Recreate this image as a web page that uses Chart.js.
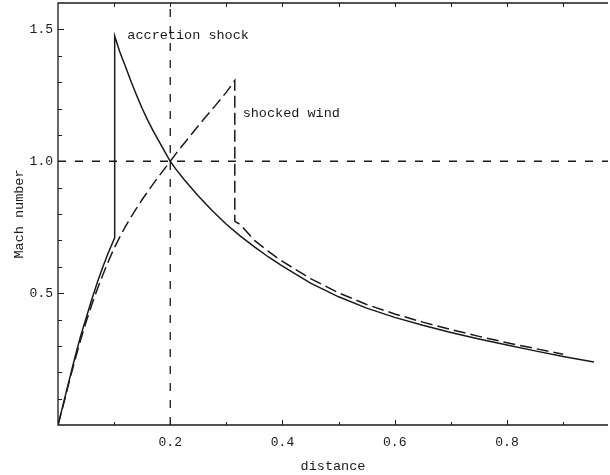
<!DOCTYPE html>
<html>
<head>
<meta charset="utf-8">
<script src="https://cdn.jsdelivr.net/npm/chart.js@4.4.0/dist/chart.umd.min.js"></script>
<style>
  html, body { margin: 0; padding: 0; background: #fff; }
  #wrap { width: 610px; height: 475px; }
</style>
</head>
<body>
<div id="wrap"><canvas id="machChart" width="610" height="475"></canvas></div>
<script>
(function () {
  // solid curve: accretion flow, jumps at the accretion shock
  const solidX = [0, 0.01, 0.02, 0.03, 0.04, 0.05, 0.06, 0.07, 0.08, 0.09, 0.101,
    0.101, 0.11, 0.12, 0.13, 0.14, 0.15, 0.16, 0.17, 0.18, 0.19, 0.2, 0.21, 0.225,
    0.25, 0.275, 0.3, 0.325, 0.35, 0.375, 0.4, 0.45,
    0.5, 0.55, 0.6, 0.65, 0.7, 0.75, 0.8, 0.85, 0.9, 0.955];
  const solidY = [0, 0.085, 0.17, 0.255, 0.335, 0.405, 0.475, 0.54, 0.6, 0.655, 0.71,
    1.475, 1.415, 1.36, 1.303, 1.25, 1.2, 1.155, 1.113, 1.075, 1.037, 1.0, 0.97, 0.93,
    0.868, 0.812, 0.761, 0.716, 0.675, 0.637, 0.602, 0.538,
    0.486, 0.443, 0.408, 0.378, 0.351, 0.326, 0.303, 0.281, 0.26, 0.239];

  // dashed curve: wind, drops at the shocked wind
  const dashedX = [0, 0.01, 0.02, 0.03, 0.04, 0.05, 0.06, 0.07, 0.08, 0.09, 0.1,
    0.11, 0.12, 0.13, 0.14, 0.15, 0.16, 0.17, 0.18, 0.19, 0.2, 0.21, 0.22, 0.24,
    0.26, 0.28, 0.3, 0.315,
    0.315, 0.325, 0.35, 0.375, 0.4, 0.45, 0.5, 0.55, 0.6, 0.65, 0.7, 0.75, 0.8, 0.85, 0.9];
  const dashedY = [0, 0.08, 0.165, 0.245, 0.32, 0.39, 0.455, 0.515, 0.57, 0.622, 0.67,
    0.712, 0.752, 0.788, 0.822, 0.855, 0.885, 0.915, 0.944, 0.972, 1.0, 1.028, 1.055, 1.108,
    1.16, 1.21, 1.262, 1.306,
    0.772, 0.76, 0.7, 0.658, 0.62, 0.555, 0.501, 0.457, 0.421, 0.39, 0.362, 0.336, 0.312, 0.29, 0.268];

  // sonic point guide lines
  const guideVX = [0.2, 0.2];
  const guideVY = [0, 1.6];
  const guideHX = [0, 0.98];
  const guideHY = [1.0, 1.0];

  const xMin = 0, xMax = 0.98;
  const yMin = 0, yMax = 1.6;
  const xLabelTicks = [0.2, 0.4, 0.6, 0.8];
  const xLabels = ['0.2', '0.4', '0.6', '0.8'];
  const yLabelTicks = [0.5, 1.0, 1.5];
  const yLabels = ['0.5', '1.0', '1.5'];
  const xMinorTicks = [0.1, 0.2, 0.3, 0.4, 0.5, 0.6, 0.7, 0.8, 0.9];
  const yMinorTicks = [0.1, 0.2, 0.3, 0.4, 0.5, 0.6, 0.7, 0.8, 0.9, 1.0, 1.1, 1.2, 1.3, 1.4, 1.5];

  const notes = [
    { text: 'accretion shock', x: 0.1236, y: 1.478 },
    { text: 'shocked wind', x: 0.329, y: 1.183 }
  ];

  const ink = '#1a1a1a';
  const mono = "'Liberation Mono', 'DejaVu Sans Mono', monospace";

  const toPoints = (xs, ys) => xs.map((v, i) => ({ x: v, y: ys[i] }));

  function noEdgePadding(scale) {
    scale.paddingTop = 0;
    scale.paddingBottom = 0;
    scale.paddingLeft = 0;
    scale.paddingRight = 0;
  }

  const axisFrame = {
    id: 'axisFrame',
    afterDatasetsDraw(chart) {
      const { ctx, chartArea: a, scales: { x, y } } = chart;
      ctx.save();
      ctx.strokeStyle = ink;
      ctx.lineWidth = 1.3;
      ctx.beginPath();
      ctx.moveTo(a.right, a.top);
      ctx.lineTo(a.left, a.top);
      ctx.lineTo(a.left, a.bottom);
      ctx.lineTo(a.right, a.bottom);
      ctx.stroke();

      ctx.lineWidth = 1;
      ctx.beginPath();
      xMinorTicks.forEach((v) => {
        const px = Math.round(x.getPixelForValue(v)) + 0.5;
        const len = xLabelTicks.includes(v) ? 5 : 3;
        ctx.moveTo(px, a.bottom);
        ctx.lineTo(px, a.bottom - len);
        ctx.moveTo(px, a.top);
        ctx.lineTo(px, a.top + 4);
      });
      yMinorTicks.forEach((v) => {
        const py = Math.round(y.getPixelForValue(v)) + 0.5;
        const len = yLabelTicks.includes(v) ? 6 : 4;
        ctx.moveTo(a.left, py);
        ctx.lineTo(a.left + len, py);
      });
      ctx.stroke();

      ctx.fillStyle = ink;
      ctx.font = `13.5px ${mono}`;
      ctx.textAlign = 'left';
      ctx.textBaseline = 'middle';
      notes.forEach((n) => {
        ctx.fillText(n.text, x.getPixelForValue(n.x), y.getPixelForValue(n.y));
      });
      ctx.restore();
    }
  };

  const ctx = document.getElementById('machChart');

  new Chart(ctx, {
    type: 'scatter',
    data: {
      datasets: [
        {
          data: toPoints(solidX, solidY),
          showLine: true,
          borderColor: ink,
          borderWidth: 1.5,
          pointRadius: 0,
          tension: 0
        },
        {
          data: toPoints(dashedX, dashedY),
          showLine: true,
          borderColor: ink,
          borderWidth: 1.5,
          borderDash: [12, 5],
          pointRadius: 0,
          tension: 0
        },
        {
          data: toPoints(guideVX, guideVY),
          showLine: true,
          borderColor: ink,
          borderWidth: 1.3,
          borderDash: [8, 9],
          pointRadius: 0
        },
        {
          data: toPoints(guideHX, guideHY),
          showLine: true,
          borderColor: ink,
          borderWidth: 1.3,
          borderDash: [8, 9],
          pointRadius: 0
        }
      ]
    },
    options: {
      responsive: false,
      animation: false,
      devicePixelRatio: 1,
      layout: { padding: { top: 3, right: 2, bottom: 0, left: 0 } },
      plugins: {
        legend: { display: false },
        tooltip: { enabled: false }
      },
      scales: {
        x: {
          type: 'linear',
          min: xMin,
          max: xMax,
          afterBuildTicks: (scale) => { scale.ticks = xLabelTicks.map((v) => ({ value: v })); },
          afterFit: (scale) => { scale.height = 50; noEdgePadding(scale); },
          grid: { display: false, drawTicks: false },
          border: { display: false },
          ticks: {
            padding: 10,
            color: ink,
            font: { family: mono, size: 13 },
            autoSkip: false,
            maxRotation: 0,
            callback: (value) => xLabels[xLabelTicks.indexOf(Math.round(value * 10) / 10)] || ''
          },
          title: {
            display: true,
            text: 'distance',
            color: ink,
            font: { family: mono, size: 13.5 },
            padding: { top: 0, bottom: 0 }
          }
        },
        y: {
          type: 'linear',
          min: yMin,
          max: yMax,
          afterBuildTicks: (scale) => { scale.ticks = yLabelTicks.map((v) => ({ value: v })); },
          afterFit: (scale) => { scale.width = 58; noEdgePadding(scale); },
          grid: { display: false, drawTicks: false },
          border: { display: false },
          ticks: {
            padding: 5,
            color: ink,
            font: { family: mono, size: 13 },
            autoSkip: false,
            callback: (value) => yLabels[yLabelTicks.indexOf(Math.round(value * 10) / 10)] || ''
          },
          title: {
            display: true,
            text: 'Mach number',
            color: ink,
            font: { family: mono, size: 13.5 },
            padding: { top: 11, bottom: 0 }
          }
        }
      }
    },
    plugins: [axisFrame]
  });
})();
</script>
</body>
</html>
